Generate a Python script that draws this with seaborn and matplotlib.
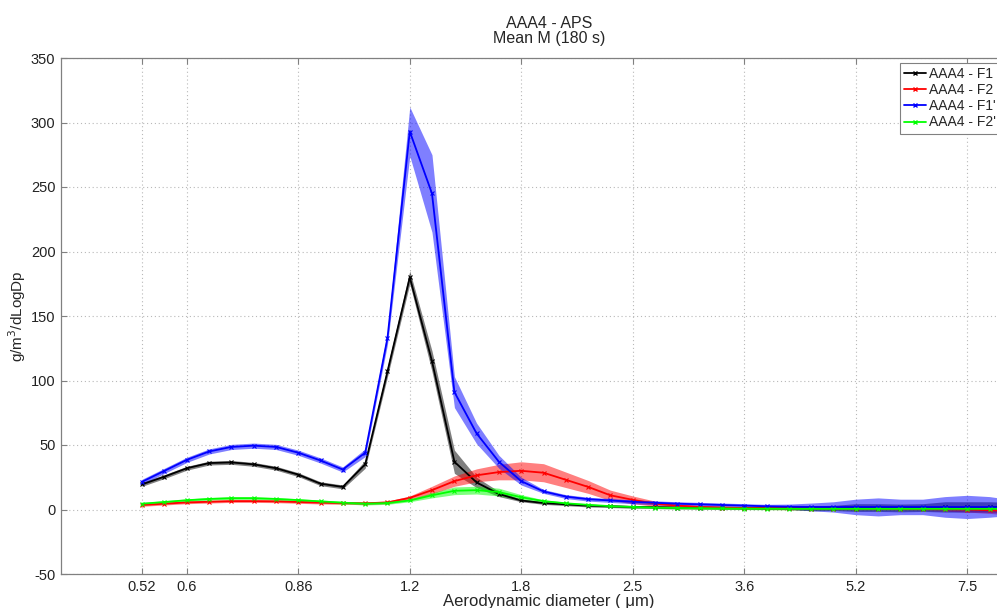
import numpy as np
import pandas as pd
import matplotlib
matplotlib.use("Agg")
import matplotlib.pyplot as plt
import seaborn as sns
from matplotlib.lines import Line2D

# APS channel diameters (um), log-spaced
diameter = [0.520, 0.559, 0.601, 0.646, 0.694, 0.746, 0.802, 0.862, 0.926, 0.995,
            1.070, 1.150, 1.236, 1.328, 1.428, 1.534, 1.649, 1.772, 1.905, 2.048,
            2.201, 2.365, 2.542, 2.732, 2.937, 3.157, 3.393, 3.647, 3.919, 4.213,
            4.528, 4.866, 5.230, 5.622, 6.042, 6.494, 6.980, 7.502, 8.063, 8.667]

f1_mean = [19.5, 25.5, 32, 36, 36.5, 35, 32, 27, 20, 17.5,
           35, 107, 180, 115, 37, 21, 12, 7, 5, 4,
           3, 2.5, 2, 1.8, 1.5, 1.3, 1.2, 1.1, 1, 1,
           1, 1.2, 1.5, 1.5, 1.2, 1.5, 2, 2, 2, 1.5]
f1_err = [1.5, 1.5, 1.5, 1.5, 1.5, 1.5, 1.5, 1.5, 1.5, 1.5,
          3, 4, 5, 8, 9, 4, 2, 1, 1, 1,
          1, 1, 1, 1, 1, 1, 1, 1, 1, 1,
          2, 2, 3, 3, 3, 3, 4, 4, 4, 4]

f2_mean = [3.5, 4.5, 5.5, 6, 6.5, 6.5, 6.3, 5.8, 5.3, 5,
           4.8, 5.5, 9, 15, 22, 26.5, 29, 30, 28.5, 23,
           17.5, 11, 7.5, 4.5, 3, 2, 1.5, 1.2, 1, 0.8,
           0.7, 0.6, 0.5, 0.5, 0.4, 0.3, 0.2, 0, -0.5, -1.5]
f2_err = [1, 1, 1, 1, 1, 1, 1, 1, 1, 1,
          1, 1, 1.5, 3, 4, 5, 6, 7, 7, 6,
          5, 4, 3, 2, 1, 1, 1, 1, 1, 1,
          1, 1, 1, 1, 1, 1, 1.5, 2, 2.5, 3]

f1p_mean = [21.5, 30, 38.5, 45, 48.5, 49.5, 48.5, 44, 38, 31,
            44, 133, 293, 245, 91, 59, 37, 22, 14, 10,
            8, 7, 6, 5.2, 4.5, 4, 3.5, 3, 2.5, 2.2,
            2, 2, 2, 2, 2, 2, 2, 2, 2, 1.5]
f1p_err = [2, 2, 2, 2, 2, 2, 2, 2, 2, 2,
           3, 5, 19, 30, 12, 8, 5, 3, 1.5, 1.5,
           1.5, 1.5, 1.5, 1.5, 1.5, 1.5, 1.5, 1.5, 1.5, 2,
           3, 4, 6, 7, 6, 6, 8, 9, 8, 6]

f2p_mean = [4.5, 5.8, 7.2, 8.2, 8.8, 8.8, 8.2, 7.3, 6.3, 5.3,
            4.5, 5, 7, 11, 14.5, 15, 13.5, 9.5, 6.5, 4.8,
            3.6, 2.6, 2, 1.5, 1.2, 1, 0.8, 0.7, 0.6, 0.5,
            0.5, 0.5, 0.5, 0.5, 0.5, 0.5, 0.5, 0.5, 0.5, 0.5]
f2p_err = [1, 1, 1, 1, 1, 1, 1, 1, 1, 1,
           1, 1, 1, 2, 3, 3, 3, 2, 1, 0.8,
           0.8, 0.8, 0.8, 0.8, 0.8, 0.8, 0.8, 0.8, 0.8, 0.8,
           0.8, 0.8, 0.8, 0.8, 0.8, 0.8, 0.8, 0.8, 0.8, 0.8]

series_names = ["AAA4 - F1", "AAA4 - F2", "AAA4 - F1'", "AAA4 - F2'"]
series_colors = ["#000000", "#ff0000", "#0000ff", "#00ff00"]
series_means = [f1_mean, f2_mean, f1p_mean, f2p_mean]
series_errs = [f1_err, f2_err, f1p_err, f2p_err]

tick_idx = [0, 2, 7, 12, 17, 22, 27, 32, 37]
tick_labels = ["0.52", "0.6", "0.86", "1.2", "1.8", "2.5", "3.6", "5.2", "7.5"]
y_ticks = [-50, 0, 50, 100, 150, 200, 250, 300, 350]

sns.set_style("white")
plt.rcParams["font.family"] = ["Liberation Sans", "DejaVu Sans"]

fig = plt.figure(figsize=(9.97, 6.08), dpi=100)
W, H = 997, 608
ax = fig.add_axes([61 / W, (H - 574) / H, (1037 - 61) / W, (574 - 58) / H])

frames = []
for name, m, e in zip(series_names, series_means, series_errs):
    frames.append(pd.DataFrame({"d": diameter, "y": m, "err": e, "series": name}))
df = pd.concat(frames, ignore_index=True)

# shaded bands first
for name, col in zip(series_names, series_colors):
    sub = df[df.series == name]
    ax.fill_between(sub.d, sub.y - sub.err, sub.y + sub.err,
                    color=col, alpha=0.5, lw=0, zorder=2)

sns.lineplot(data=df, x="d", y="y", hue="series", hue_order=series_names,
             palette=series_colors, marker="x", markersize=3.5,
             markeredgewidth=0.8, linewidth=1.3, legend=False, ax=ax,
             zorder=3, sort=False)
for ln in ax.lines:
    ln.set_markeredgecolor(ln.get_color())
    ln.set_markerfacecolor(ln.get_color())

ax.set_xscale("log")
ax.set_xlim(0.4, 9.4)
ax.set_ylim(-50, 350)
ax.set_xticks([diameter[i] for i in tick_idx])
ax.set_xticklabels(tick_labels)
ax.xaxis.set_minor_locator(matplotlib.ticker.NullLocator())
ax.set_yticks(y_ticks)
ax.set_yticklabels([str(v) for v in y_ticks])

ax.grid(True, which="major", color="#b8b8b8", linestyle=(0, (1, 2.5)), linewidth=0.8)
for sp in ax.spines.values():
    sp.set_color("#808080")
    sp.set_linewidth(0.9)
ax.tick_params(direction="in", length=4, color="#808080", labelsize=10.5,
               labelcolor="#222222", pad=4, top=True, right=True, bottom=True, left=True)

ax.set_xlabel("Aerodynamic diameter ( \u03bcm)", fontsize=12, labelpad=0)
ax.set_ylabel("g/m$^3$/dLogDp", fontsize=11, labelpad=2)
ax.set_title("AAA4 - APS\nMean M (180 s)", fontsize=11.5, pad=11, linespacing=1.0)

handles = [Line2D([], [], color=c, lw=1.3, marker="x", markersize=3) for c in series_colors]
leg = fig.legend(handles, series_names, loc="upper left",
                 bbox_to_anchor=(900 / W, 1 - 63 / H), bbox_transform=fig.transFigure,
                 fontsize=10, frameon=True, fancybox=False, framealpha=1,
                 edgecolor="#808080", handlelength=1.6, handletextpad=0.2,
                 labelspacing=0.15, borderpad=0.3, borderaxespad=0)
leg.get_frame().set_linewidth(0.8)

fig.savefig("out.png", dpi=100)
